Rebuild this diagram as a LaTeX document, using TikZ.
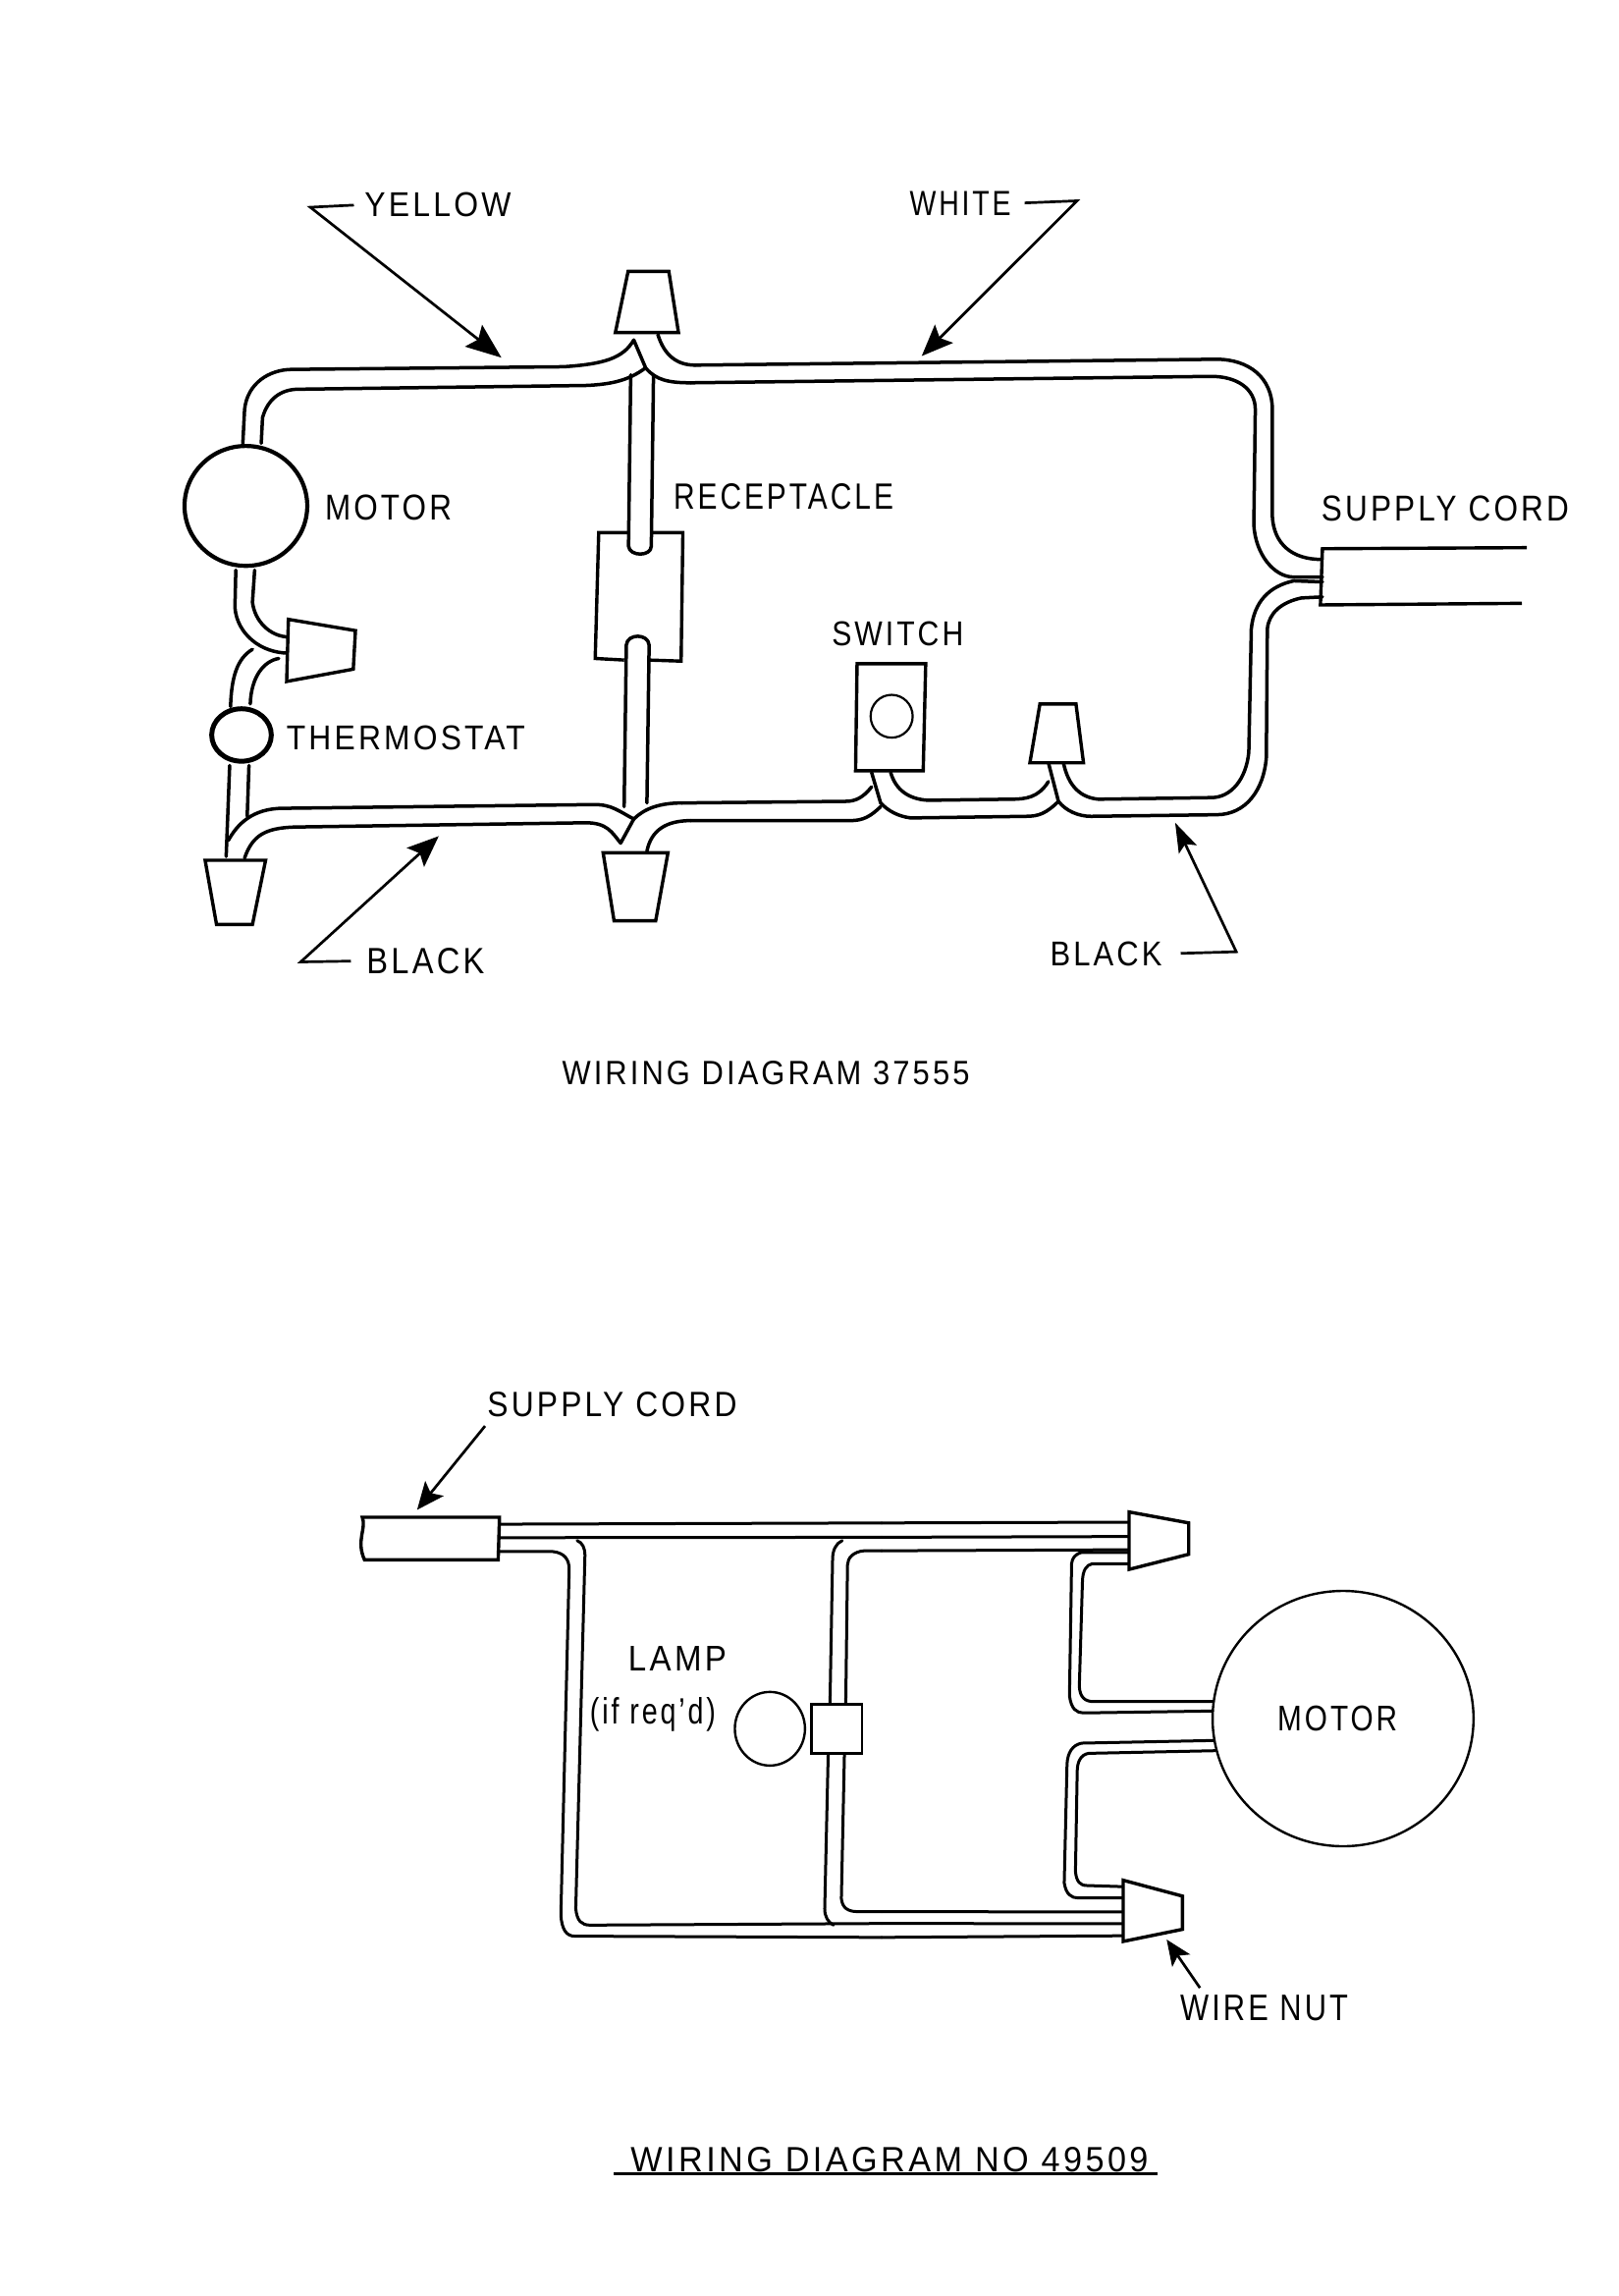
\documentclass[tikz,border=0pt]{standalone}
\usepackage{graphicx}
\usepackage{fontspec}
\setmainfont[LetterSpace=10]{Liberation Sans}
\usetikzlibrary{arrows.meta}
\newdimen\pxu \pxu=0.5pt
\newcommand{\Tx}[3]{\resizebox{#1\pxu}{#2\pxu}{#3}}
\tikzset{
  wire/.style={line width=1.75pt,line join=round,line cap=round},
  thinwire/.style={line width=1.5pt,line join=round,line cap=round},
  comp/.style={line width=1.7pt,fill=white,line join=miter},
  label/.style={inner sep=0pt,outer sep=0pt},
  leader/.style={line width=1.35pt,line join=miter},
  zoneA/.style={shift={(75pt,-75pt)},x=0.2232pt,y=-0.2725pt},
  zoneB/.style={shift={(400pt,-75pt)},x=0.2551pt,y=-0.2725pt},
  zoneC/.style={shift={(170pt,-700pt)},x=0.2232pt,y=-0.2083pt},
  zoneD/.style={shift={(500pt,-750pt)},x=0.1786pt,y=-0.1923pt},
}
\begin{document}
\begin{tikzpicture}[x=0.5pt,y=-0.5pt]
\useasboundingbox (0,0) rectangle (1648,2338);
\fill[white] (0,0) rectangle (1648,2338);
% ---------- upper diagram, left part
\begin{scope}[zoneA]
\coordinate (wu) at (1250,407);
\coordinate (wl) at (1240,440);
\coordinate (bu) at (1220,1225);
\coordinate (bl) at (1240,1258);
% yellow wire and white junction
\draw[wire] (218,553) -- (222,490) .. controls (228,440) and (280,415) .. (330,415) -- (950,410) .. controls (1040,405) and (1085,395) .. (1110,360) -- (1137,412) .. controls (1160,435) and (1190,440) .. (wl);
\draw[wire] (260,553) -- (263,505) .. controls (275,470) and (305,452) .. (345,452) -- (1000,445) .. controls (1060,443) and (1100,435) .. (1137,412);
\draw[wire] (1165,350) .. controls (1180,390) and (1210,407) .. (wu);
% receptacle leads
\draw[wire] (1103,425) -- (1098,745) .. controls (1100,765) and (1150,765) .. (1150,745) -- (1155,425);
\draw[wire] (1088,1232) -- (1093,930) .. controls (1095,908) and (1143,908) .. (1145,930) -- (1140,1225);
\draw[comp,fill=none] (1098,720) -- (1030,720) -- (1022,955) -- (1088,958);
\draw[comp,fill=none] (1145,958) -- (1218,960) -- (1222,720) -- (1150,720);
% black wires
\draw[wire] (185,1295) .. controls (205,1265) and (240,1235) .. (310,1235) -- (1020,1228) .. controls (1060,1228) and (1075,1240) .. (1110,1255) .. controls (1135,1235) and (1170,1225) .. (bu);
\draw[wire] (222,1328) .. controls (240,1285) and (270,1272) .. (335,1270) -- (1000,1262) .. controls (1050,1262) and (1060,1280) .. (1080,1300) -- (1110,1255);
\draw[wire] (1140,1315) .. controls (1150,1275) and (1185,1258) .. (bl);
% motor to thermostat
\draw[wire] (202,790) -- (200,860) .. controls (205,910) and (260,945) .. (322,945);
\draw[wire] (245,790) -- (240,850) .. controls (245,885) and (280,915) .. (325,915);
\draw[wire] (240,938) .. controls (205,955) and (192,990) .. (190,1045);
\draw[wire] (300,955) .. controls (265,960) and (237,990) .. (235,1040);
\draw[wire] (188,1155) -- (180,1325);
\draw[wire] (232,1155) -- (228,1250);
% components
\draw[line width=2.1pt,fill=white] (225,670) ellipse [x radius=140,y radius=112];
\draw[line width=2.5pt,fill=white] (215,1098) ellipse [x radius=68,y radius=49];
\draw[comp] (1097,232) -- (1190,232) -- (1212,346) -- (1068,346) -- cycle;
\draw[comp] (322,882) -- (475,903) -- (470,975) -- (318,998) -- cycle;
\draw[comp] (132,1332) -- (270,1332) -- (240,1452) -- (158,1452) -- cycle;
\draw[comp] (1040,1318) -- (1188,1318) -- (1160,1445) -- (1065,1445) -- cycle;
% labels
\node[label] (yellow) at (663,107) {\Tx{149}{24.5}{YELLOW}};
\node[label] (motorA) at (550,673) {\Tx{129}{25.6}{MOTOR}};
\node[label] (thermo) at (590,1103) {\Tx{243}{24.5}{THERMOSTAT}};
\node[label] (blackL) at (635,1520) {\Tx{120}{26}{BLACK}};
\coordinate (yb) at (372,112);
\coordinate (yt) at (808,393);
\coordinate (kb) at (350,1522);
\coordinate (kt) at (665,1287);
\draw[leader,shorten <=5.5pt,-{Stealth[length=18pt,width=14pt,inset=3pt]}] (yellow.west) -- (yb) -- (yt);
\draw[leader,shorten <=8pt,-{Stealth[length=16pt,width=13pt,inset=3pt]}] (blackL.west) -- (kb) -- (kt);
\end{scope}
\node[label] (recept) at (798,505.5) {\Tx{224}{26}{RECEPTACLE}};
% ---------- upper diagram, right part
\begin{scope}[zoneB]
\draw[wire] (wu) -- (860,396) .. controls (925,396) and (972,430) .. (972,490) -- (972,690) .. controls (975,740) and (1010,770) .. (1070,770);
\draw[wire] (wl) -- (850,428) .. controls (900,428) and (938,450) .. (938,490) -- (935,705) .. controls (938,760) and (975,803) .. (1015,803) -- (1072,803);
\draw[wire] (1072,812) -- (1015,810) .. controls (965,820) and (935,850) .. (930,900) -- (925,1130) .. controls (920,1180) and (890,1215) .. (850,1215) -- (625,1218) .. controls (590,1215) and (565,1195) .. (555,1150);
\draw[wire] (1072,840) -- (1030,842) .. controls (990,850) and (965,870) .. (962,900) -- (960,1140) .. controls (955,1200) and (920,1247) .. (860,1247) -- (610,1250) .. controls (585,1250) and (560,1240) .. (545,1222) -- (525,1150);
\draw[wire] (525,1185) .. controls (505,1215) and (480,1218) .. (450,1218) -- (285,1220) .. controls (245,1218) and (220,1200) .. (210,1168);
\draw[wire] (545,1222) .. controls (520,1245) and (505,1250) .. (480,1250) -- (250,1253) .. controls (225,1250) and (205,1240) .. (190,1225) -- (172,1168);
\draw[wire] (172,1195) .. controls (155,1215) and (140,1222) .. (120,1222) -- (bu);
\draw[wire] (190,1232) .. controls (170,1250) and (155,1258) .. (130,1258) -- (bl);
% components
\draw[comp] (143,965) -- (280,965) -- (275,1165) -- (140,1165) -- cycle;
\draw[line width=1.1pt] (212,1063) ellipse [x radius=42,y radius=40];
\draw[comp] (508,1040) -- (580,1040) -- (595,1150) -- (488,1150) -- cycle;
\draw[line width=1.7pt] (1480,748) -- (1072,750) -- (1068,855) -- (1470,852);
% labels
\node[label] (white) at (349,105) {\Tx{103}{24.5}{WHITE}};
\node[label] (scordA) at (1317,675) {\Tx{252}{25.6}{SUPPLY CORD}};
\node[label] (switch) at (224,909) {\Tx{134}{24.5}{SWITCH}};
\node[label] (blackR) at (640,1507) {\Tx{114}{24.5}{BLACK}};
\coordinate (wb) at (582,100);
\coordinate (wt) at (272,390);
\coordinate (rb) at (900,1503);
\coordinate (rt) at (778,1262);
\draw[leader,shorten <=7pt,-{Stealth[length=16pt,width=13pt,inset=3pt]}] (white.east) -- (wb) -- (wt);
\draw[leader,shorten <=9.5pt,-{Stealth[length=15pt,width=10pt,inset=3pt]}] (blackR.east) -- (rb) -- (rt);
\end{scope}
\node[label] (titleA) at (780,1093) {\Tx{415}{24}{WIRING DIAGRAM 37555}};
% ---------- lower diagram, left part
\begin{scope}[zoneC]
\coordinate (la) at (1250,362);
\coordinate (lb) at (1250,397);
\coordinate (lc) at (1250,430);
\coordinate (ld) at (1250,1312);
\coordinate (le) at (1250,1341);
\coordinate (lf) at (1250,1375);
\draw[thinwire] (378,365) -- (la);
\draw[thinwire] (375,398) -- (lb);
\draw[thinwire] (375,432) -- (500,432) .. controls (525,435) and (537,450) .. (537,475) -- (518,1320) .. controls (520,1355) and (530,1372) .. (550,1372) -- (lf);
\draw[thinwire] (555,405) .. controls (568,410) and (573,425) .. (573,440) -- (552,1305) .. controls (555,1335) and (565,1345) .. (585,1345) -- (le);
\draw[thinwire] (1160,405) .. controls (1145,412) and (1138,430) .. (1138,450) -- (1132,805);
\draw[thinwire] (1128,925) -- (1120,1305) .. controls (1120,1325) and (1128,1338) .. (1140,1345);
\draw[thinwire] (lc) -- (1210,430) .. controls (1185,432) and (1172,448) .. (1172,465) -- (1168,805);
\draw[thinwire] (1165,925) -- (1158,1280) .. controls (1160,1302) and (1172,1312) .. (1195,1312) -- (ld);
% cord
\draw[comp] (378,348) -- (65,348) .. controls (75,375) and (50,405) .. (70,452) -- (375,452) -- cycle;
% lamp and socket
\draw[line width=1.2pt] (995,865) ellipse [x radius=80,y radius=90];
\draw[comp,line width=1.4pt] (1090,806) rectangle (1205,925);
% labels
\node[label] (scordB) at (635,72) {\Tx{254}{25}{SUPPLY CORD}};
\node[label] (lamp) at (784,693) {\Tx{100}{25}{LAMP}};
\node[label] (ifreq) at (728,830) {\Tx{128}{27}{(if req'd)}};
\coordinate (sa) at (345,125);
\coordinate (st) at (190,330);
\draw[leader,-{Stealth[length=14pt,width=12pt,inset=3pt]}] (sa) -- (st);
\end{scope}
% ---------- lower diagram, right part
\begin{scope}[zoneD]
\draw[thinwire] (la) -- (420,130);
\draw[thinwire] (lb) -- (420,168);
\draw[thinwire] (lc) -- (420,203);
\draw[thinwire] (418,210) -- (285,210) .. controls (265,215) and (258,225) .. (256,240) -- (250,590) .. controls (255,625) and (270,635) .. (290,635) -- (658,630);
\draw[thinwire] (418,240) -- (315,240) .. controls (298,243) and (288,258) .. (287,285) -- (278,565) .. controls (280,595) and (295,605) .. (320,605) -- (660,605);
\draw[thinwire] (662,708) -- (285,715) .. controls (258,720) and (245,740) .. (243,770) -- (235,1085) .. controls (240,1115) and (255,1125) .. (275,1125) -- (403,1125);
\draw[thinwire] (665,735) -- (305,742) .. controls (282,745) and (272,765) .. (272,790) -- (267,1055) .. controls (270,1082) and (280,1092) .. (300,1092) -- (403,1095);
\draw[thinwire] (ld) -- (403,1162);
\draw[thinwire] (le) -- (403,1193);
\draw[thinwire] (lf) -- (403,1225);
% motor and wire nuts
\draw[line width=1.2pt] (1030,650) ellipse [x radius=372,y radius=338];
\draw[comp] (420,103) -- (590,132) -- (590,215) -- (420,255) -- cycle;
\draw[comp] (403,1078) -- (572,1120) -- (572,1208) -- (403,1240) -- cycle;
% labels
\node[label] (motorB) at (1014,650) {\Tx{122}{25.4}{MOTOR}};
\node[label] (wnut) at (805,1416) {\Tx{171}{25.8}{WIRE NUT}};
\coordinate (na) at (622,1363);
\coordinate (nt) at (527,1235);
\draw[leader,-{Stealth[length=13pt,width=11pt,inset=3pt]}] (na) -- (nt);
\end{scope}
\node[label] (titleB) at (906,2199) {\Tx{527}{25}{WIRING DIAGRAM NO 49509}};
\draw[line width=1.6pt] (titleB.south west) ++(-17,2) coordinate (ua) -- ++(554,0) coordinate (ub);
\end{tikzpicture}
\end{document}
